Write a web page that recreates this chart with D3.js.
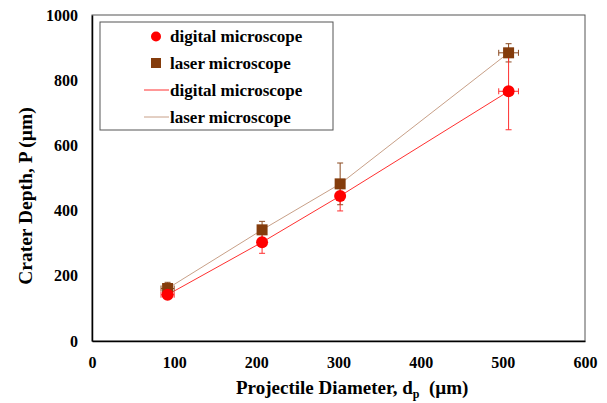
<!DOCTYPE html>
<html>
<head>
<meta charset="utf-8">
<script src="https://cdn.jsdelivr.net/npm/d3@7"></script>
<style>
  body { margin: 0; background: #fff; }
</style>
</head>
<body>
<div id="chart"></div>
<script>
// data
var diameters = [92, 207, 302, 507];
var xErr = [8, 0, 0, 12];
var digitalDepth = [142, 303, 445, 766];
var digitalErr = [10, 34, 46, 118];
var laserDepth = [161, 341, 482, 884];
var laserErr = [19, 26, 64, 28];
var xTicks = [0, 100, 200, 300, 400, 500, 600];
var yTicks = [0, 200, 400, 600, 800, 1000];

var FONT = "Liberation Serif";

var svgWidth = 607;
var svgHeight = 403;
var margin = { top: 15, right: 22, bottom: 62, left: 92 };
var width = svgWidth - margin.left - margin.right;
var height = svgHeight - margin.top - margin.bottom;

var svg = d3.select("#chart").append("svg")
    .attr("width", svgWidth)
    .attr("height", svgHeight)
    .attr("font-family", FONT)
    .attr("font-weight", "bold");

var g = svg.append("g")
    .attr("transform", `translate(${margin.left},${margin.top})`);

var x = d3.scaleLinear().domain([0, 600]).range([0, width]);
var y = d3.scaleLinear().domain([0, 1000]).range([height, 0]);

// frame
g.append("rect")
    .attr("width", width).attr("height", height)
    .attr("fill", "none").attr("stroke", "#555").attr("stroke-width", 1);

var bottomAxis = d3.axisBottom(x).tickValues(xTicks).tickFormat(d3.format("d")).tickSize(0).tickPadding(16);
var leftAxis = d3.axisLeft(y).tickValues(yTicks).tickFormat(d3.format("d")).tickSize(0).tickPadding(14);

g.append("g").attr("transform", `translate(0,${height})`).call(bottomAxis)
    .attr("font-family", FONT).attr("font-size", "16px")
    .call(a => a.select(".domain").attr("stroke", "#000").attr("stroke-width", 1.5))
    .selectAll("text").attr("fill", "#000");
g.append("g").call(leftAxis)
    .attr("font-family", FONT).attr("font-size", "16px")
    .call(a => a.select(".domain").attr("stroke", "#000").attr("stroke-width", 1.5))
    .selectAll("text").attr("fill", "#000");

var series = [
  { name: "digital microscope", vals: digitalDepth, err: digitalErr, line: "#ff3030", bar: "#ff3030" },
  { name: "laser microscope", vals: laserDepth, err: laserErr, line: "#c8a088", bar: "#8b4a20" }
];

var lineGen = d3.line().x(d => x(d[0])).y(d => y(d[1]));

series.forEach(function(s) {
  var pts = diameters.map((d, i) => [d, s.vals[i]]);
  g.append("path")
      .attr("d", lineGen(pts))
      .attr("fill", "none")
      .attr("stroke", s.line)
      .attr("stroke-width", 1);
});

series.slice().reverse().forEach(function(s) {
  var eb = g.append("g").attr("stroke", s.bar).attr("stroke-width", 1);
  diameters.forEach(function(d, i) {
    var cx = x(d), cy = y(s.vals[i]);
    var y0 = y(s.vals[i] - s.err[i]), y1 = y(s.vals[i] + s.err[i]);
    eb.append("line").attr("x1", cx).attr("x2", cx).attr("y1", y0).attr("y2", y1);
    eb.append("line").attr("x1", cx - 3).attr("x2", cx + 3).attr("y1", y0).attr("y2", y0);
    eb.append("line").attr("x1", cx - 3).attr("x2", cx + 3).attr("y1", y1).attr("y2", y1);
    if (xErr[i] > 0) {
      var x0 = x(d - xErr[i]), x1 = x(d + xErr[i]);
      eb.append("line").attr("x1", x0).attr("x2", x1).attr("y1", cy).attr("y2", cy);
      eb.append("line").attr("x1", x0).attr("x2", x0).attr("y1", cy - 3).attr("y2", cy + 3);
      eb.append("line").attr("x1", x1).attr("x2", x1).attr("y1", cy - 3).attr("y2", cy + 3);
    }
  });
});

// markers (laser under digital)
g.selectAll(".sq").data(diameters.map((d, i) => [d, laserDepth[i]])).enter()
    .append("rect")
    .attr("x", d => x(d[0]) - 5.5).attr("y", d => y(d[1]) - 5.5)
    .attr("width", 11).attr("height", 11)
    .attr("fill", "#843c0c");

g.selectAll(".dot").data(diameters.map((d, i) => [d, digitalDepth[i]])).enter()
    .append("circle")
    .attr("cx", d => x(d[0])).attr("cy", d => y(d[1]))
    .attr("r", 6)
    .attr("fill", "#ff0000");

// legend
var lg = svg.append("g").attr("transform", "translate(100,22)");
lg.append("rect").attr("width", 233).attr("height", 108)
    .attr("fill", "#fff").attr("stroke", "#555").attr("stroke-width", 1);
var rows = [14.5, 41, 68, 95];
lg.append("circle").attr("cx", 56).attr("cy", rows[0]).attr("r", 5).attr("fill", "#ff0000");
lg.append("rect").attr("x", 51).attr("y", rows[1] - 5).attr("width", 10).attr("height", 10).attr("fill", "#843c0c");
lg.append("line").attr("x1", 44).attr("x2", 69).attr("y1", rows[2]).attr("y2", rows[2]).attr("stroke", "#ff3030");
lg.append("line").attr("x1", 44).attr("x2", 69).attr("y1", rows[3]).attr("y2", rows[3]).attr("stroke", "#c8a088");
var labels = [series[0].name, series[1].name, series[0].name, series[1].name];
labels.forEach(function(t, i) {
  lg.append("text").attr("x", 70).attr("y", rows[i]).attr("dy", "0.35em")
      .attr("font-size", "17px").attr("fill", "#000").text(t);
});

// axis titles
var xt = svg.append("text")
    .attr("x", 236).attr("y", 394)
    .attr("font-size", "19px").attr("fill", "#000");
xt.append("tspan").text("Projectile Diameter, d");
xt.append("tspan").attr("font-size", "12px").attr("dy", "4").text("p");
xt.append("tspan").attr("dy", "-4").text("\u00a0\u00a0(\u00b5m)");

svg.append("text")
    .attr("transform", "translate(32,196) rotate(-90)")
    .attr("text-anchor", "middle").attr("font-size", "19.5px").attr("fill", "#000")
    .text("Crater Depth, P (\u00b5m)");
</script>
</body>
</html>
